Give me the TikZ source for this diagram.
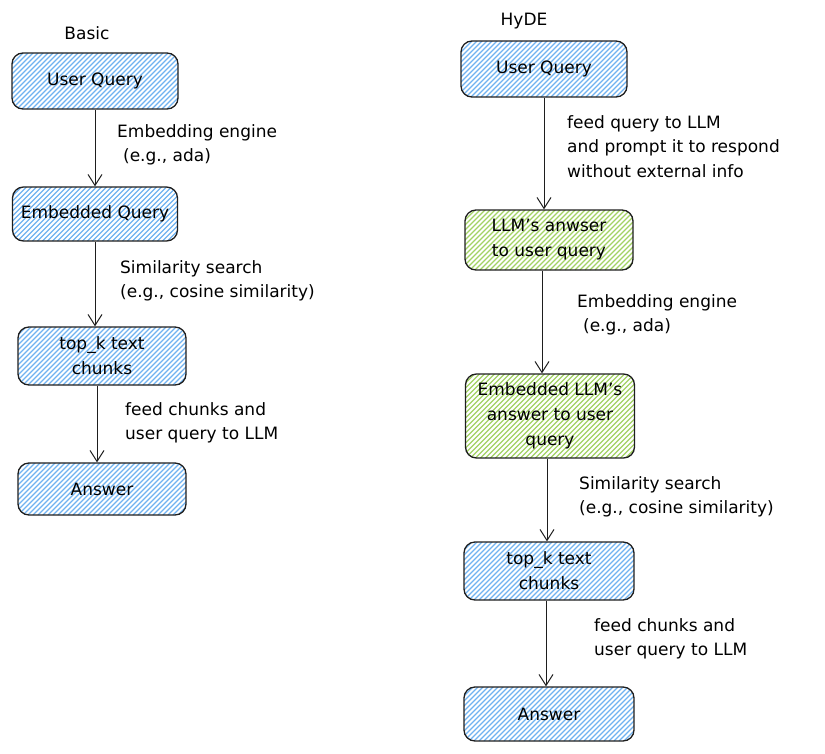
\documentclass[tikz,border=0pt]{standalone}
\usepackage{fontspec}
\setmainfont{DejaVu Sans}
\usetikzlibrary{arrows.meta}
\definecolor{ink}{HTML}{1E1E1E}
\definecolor{hatchblue}{HTML}{70B2F0}
\definecolor{hatchgreen}{HTML}{A2D264}

\begin{document}
\begin{tikzpicture}[x=1pt, y=-1pt,
    hatch/.style={path picture={
      \foreach \i in {-100,-95,...,180}
        \draw[#1, line width=1.2pt] ([xshift=\i pt]path picture bounding box.south west) -- ++(100,-100);}},
    box/.style={draw=ink, line width=1.3pt, rounded corners=11pt, align=center, inner sep=0pt,
      font=\fontsize{17}{25}\selectfont},
    bluebox/.style={box, hatch=hatchblue},
    greenbox/.style={box, hatch=hatchgreen},
    note/.style={anchor=north west, align=left, inner sep=0pt, font=\fontsize{17}{24.5}\selectfont},
    title/.style={font=\fontsize{17}{20}\selectfont},
    arr/.style={draw=ink, line width=1pt, -{Straight Barb[length=11pt,width=14pt,line width=1pt]}}]
  \useasboundingbox (0,0) rectangle (825,753);

  % Basic
  \node[title] (basic) at (87,33) {Basic};
  \node[bluebox, minimum width=166pt, minimum height=56pt] (uq) at (95,81) {User Query};
  \node[bluebox, minimum width=165pt, minimum height=54pt] (eq) at (95,214) {Embedded Query};
  \node[bluebox, minimum width=168pt, minimum height=58pt] (top) at (102,356) {top\_k text\\chunks};
  \node[bluebox, minimum width=168pt, minimum height=52pt] (ans) at (102,489) {Answer};

  \draw[arr] (uq.south) -- (uq.south |- eq.north);
  \draw[arr] (eq.south) -- (eq.south |- top.north);
  \draw[arr] ([xshift=-5pt]top.south) -- ([xshift=-5pt]top.south |- ans.north);

  \node[note] (n1) at (117,124) {Embedding engine\\\hspace{0.35em}(e.g., ada)};
  \node[note] (n2) at (120,260) {Similarity search\\(e.g., cosine similarity)};
  \node[note] (n3) at (125,402) {feed chunks and\\user query to LLM};

  % HyDE
  \node[title] (hyde) at (524,21) {HyDE};
  \node[bluebox, minimum width=166pt, minimum height=56pt] (huq) at (544,69) {User Query};
  \node[greenbox, minimum width=168pt, minimum height=60pt] (llm) at (549,240) {LLM's anwser\\to user query};
  \node[greenbox, minimum width=169pt, minimum height=84pt] (heq) at (550,416) {Embedded LLM's\\answer to user\\query};
  \node[bluebox, minimum width=170pt, minimum height=58pt] (htop) at (549,571) {top\_k text\\chunks};
  \node[bluebox, minimum width=170pt, minimum height=54pt] (hans) at (549,714) {Answer};

  \draw[arr] (huq.south) -- (huq.south |- llm.north);
  \draw[arr] ([xshift=-7pt]llm.south) -- ([xshift=-7pt]llm.south |- heq.north);
  \draw[arr] ([xshift=-3pt]heq.south) -- ([xshift=-3pt]heq.south |- htop.north);
  \draw[arr] ([xshift=-3pt]htop.south) -- ([xshift=-3pt]htop.south |- hans.north);

  \node[note] (m1) at (567,115) {feed query to LLM\\and prompt it to respond\\without external info};
  \node[note] (m2) at (577,294) {Embedding engine\\\hspace{0.35em}(e.g., ada)};
  \node[note] (m3) at (579,476) {Similarity search\\(e.g., cosine similarity)};
  \node[note] (m4) at (594,618) {feed chunks and\\user query to LLM};
\end{tikzpicture}
\end{document}
